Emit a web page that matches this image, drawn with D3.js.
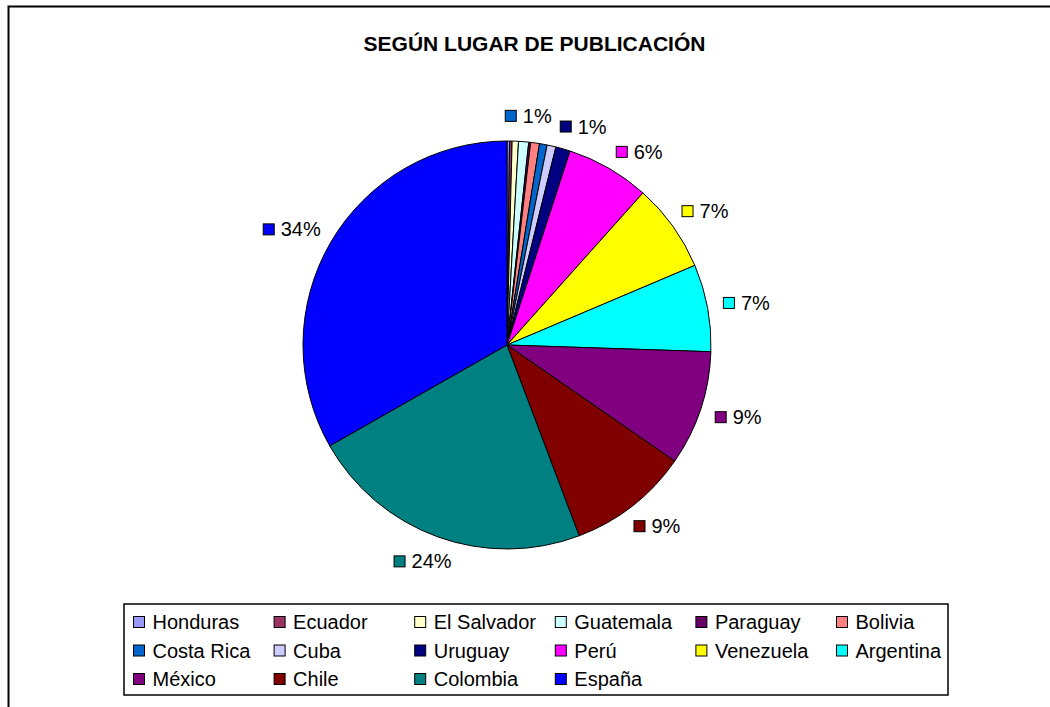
<!DOCTYPE html>
<html>
<head>
<meta charset="utf-8">
<script src="https://cdn.jsdelivr.net/npm/d3@7"></script>
<style>
  body { margin: 0; background: #fff; }
  svg { display: block; font-family: Arial, "Liberation Sans", sans-serif; }
</style>
</head>
<body>
<svg id="chart" width="1050" height="707"></svg>
<script>
// countries in the order Excel draws them (clockwise from 12 o'clock)
const countries = ["Honduras", "Ecuador", "El Salvador", "Guatemala", "Paraguay", "Bolivia",
  "Costa Rica", "Cuba", "Uruguay", "Perú", "Venezuela", "Argentina",
  "México", "Chile", "Colombia", "España"];
// share of publications (%)
const shares = [0.2, 0.2, 0.5, 0.8, 0.15, 0.7, 0.6, 0.7, 1.15, 6.6, 7.0, 6.9, 9.1, 9.6, 22.5, 33.2];
// data labels as printed on the chart (blank = no label)
const labelText = ["", "", "", "", "", "", "1%", "", "1%", "6%", "7%", "7%", "9%", "9%", "24%", "34%"];
const colors = ["#9999FF", "#993366", "#FFFFCC", "#CCFFFF", "#660066", "#FF8080",
  "#0066CC", "#CCCCFF", "#000080", "#FF00FF", "#FFFF00", "#00FFFF",
  "#800080", "#800000", "#008080", "#0000FF"];

const svg = d3.select("#chart");
const cx = 507, cy = 345, radius = 204;

// outer chart frame (right/bottom run off the page)
svg.append("rect")
  .attr("x", 8.5).attr("y", 6.5)
  .attr("width", 1100).attr("height", 800)
  .attr("fill", "#fff").attr("stroke", "#000").attr("stroke-width", 2);

svg.append("text")
  .attr("x", 534.5).attr("y", 50.5)
  .attr("text-anchor", "middle")
  .style("font-size", "21px").style("font-weight", "bold")
  .text("SEGÚN LUGAR DE PUBLICACIÓN");

const color = d3.scaleOrdinal().domain(countries).range(colors);
const pie = d3.pie().sort(null).value((d) => d.v);
const arcs = pie(countries.map((c, i) => ({ name: c, v: shares[i], label: labelText[i] })));
const arc = d3.arc().innerRadius(0).outerRadius(radius);

const g = svg.append("g").attr("transform", `translate(${cx},${cy})`);
g.selectAll("path")
  .data(arcs)
  .join("path")
  .attr("d", arc)
  .attr("fill", (d) => color(d.data.name))
  .attr("stroke", "#000")
  .attr("stroke-width", 1)
  .attr("stroke-linejoin", "round");

// data labels: marker + percent, placed outside the slice, pushed apart when crowded
const labelR = 220, fs = 20, boxH = 20, pad = 8;
const measure = svg.append("text").style("font-size", fs + "px");
const labels = arcs.filter((d) => d.data.label).map((d) => {
  measure.text(d.data.label);
  const tw = measure.node().getComputedTextLength();
  return { d, a: (d.startAngle + d.endAngle) / 2, w: 18 + tw };
});
measure.remove();

function box(l) {
  const s = Math.sin(l.a), c = Math.cos(l.a);
  const x = labelR * s + (l.w / 2) * s;
  const y = -labelR * c - (boxH / 2) * c;
  return { x0: x - l.w / 2, x1: x + l.w / 2, y0: y - boxH / 2, y1: y + boxH / 2, x, y };
}

labels.sort((a, b) => a.a - b.a);
for (let it = 0; it < 400; it++) {
  let moved = false;
  for (let i = 0; i < labels.length - 1; i++) {
    const p = box(labels[i]), q = box(labels[i + 1]);
    const xo = p.x1 + pad > q.x0 && q.x1 + pad > p.x0;
    const yo = p.y1 + pad > q.y0 && q.y1 + pad > p.y0;
    if (xo && yo) {
      labels[i].a -= 0.004;
      labels[i + 1].a += 0.004;
      moved = true;
    }
  }
  if (!moved) break;
}

const lg = g.selectAll("g.lab")
  .data(labels)
  .join("g")
  .attr("class", "lab")
  .attr("transform", (l) => {
    const b = box(l);
    return `translate(${b.x0},${b.y})`;
  });
lg.append("rect")
  .attr("x", 0.5).attr("y", -5.5)
  .attr("width", 11).attr("height", 11)
  .attr("fill", (l) => color(l.d.data.name))
  .attr("stroke", "#000");
lg.append("text")
  .attr("x", 18).attr("dy", "0.35em")
  .style("font-size", fs + "px")
  .text((l) => l.d.data.label);

// legend
const legX = 124, legY = 604, colW = 140.6, rowH = 28.5, perRow = 6;
svg.append("rect")
  .attr("x", legX).attr("y", legY)
  .attr("width", 824).attr("height", 91)
  .attr("fill", "#fff").attr("stroke", "#000").attr("stroke-width", 1.5);

const items = svg.selectAll("g.leg")
  .data(countries)
  .join("g")
  .attr("class", "leg")
  .attr("transform", (d, i) =>
    `translate(${legX + 9 + (i % perRow) * colW},${legY + 18 + Math.floor(i / perRow) * rowH})`);
items.append("rect")
  .attr("x", 0.5).attr("y", -5.5)
  .attr("width", 11).attr("height", 11)
  .attr("fill", (d) => color(d))
  .attr("stroke", "#000");
items.append("text")
  .attr("x", 19.5).attr("dy", "0.35em")
  .style("font-size", fs + "px")
  .text((d) => d);
</script>
</body>
</html>
